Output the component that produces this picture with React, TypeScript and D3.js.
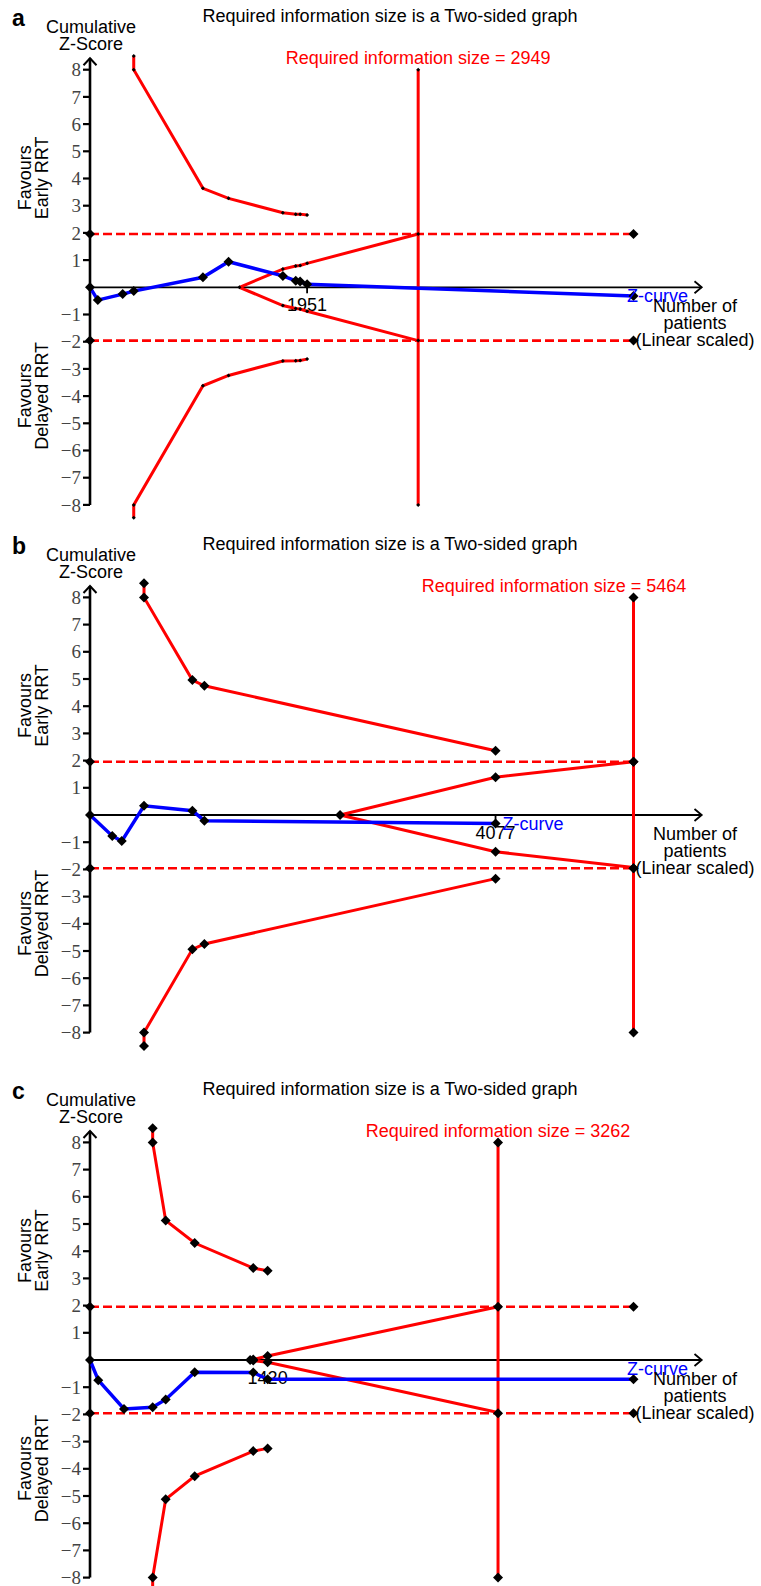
import { useEffect } from 'react';
import * as d3 from 'd3';

type Pt = [number, number];

const yTicks = [-8, -7, -6, -5, -4, -3, -2, -1, 1, 2, 3, 4, 5, 6, 7, 8];
const conventional = 1.96;

// panel a
const aRis = 2949;
const aEnd = 4884;
const aFinalN = 1951;
const aZCurve: Pt[] = [[0, 0], [70, -0.47], [294, -0.25], [393, -0.14], [1015, 0.37], [1245, 0.94], [1733, 0.42], [1849, 0.24], [1888, 0.21], [1951, 0.11], [4884, -0.32]];
const aUpper: Pt[] = [[393, 8.5], [393, 8], [1015, 3.64], [1245, 3.27], [1733, 2.74], [1849, 2.69], [1888, 2.69], [1951, 2.66]];
const aLower: Pt[] = [[393, -8.47], [393, -8], [1015, -3.62], [1245, -3.24], [1733, -2.71], [1849, -2.7], [1888, -2.69], [1951, -2.64]];
const aFutUp: Pt[] = [[1343, 0], [1733, 0.67], [1849, 0.78], [1888, 0.8], [1951, 0.88], [2949, 1.96]];
const aFutLo: Pt[] = [[1343, 0], [1733, -0.67], [1849, -0.78], [1888, -0.8], [1951, -0.88], [2949, -1.96]];

// panel b
const bRis = 5464;
const bEnd = 5464;
const bFinalN = 4077;
const bZCurve: Pt[] = [[0, 0], [224, -0.77], [319, -0.96], [543, 0.34], [1029, 0.16], [1150, -0.21], [4077, -0.31]];
const bUpper: Pt[] = [[543, 8.52], [543, 8], [1029, 4.96], [1150, 4.75], [4077, 2.36]];
const bLower: Pt[] = [[543, -8.49], [543, -8], [1029, -4.94], [1150, -4.74], [4077, -2.34]];
const bFutUp: Pt[] = [[2514, 0], [4077, 1.39], [5464, 1.96]];
const bFutLo: Pt[] = [[2514, 0], [4077, -1.35], [5464, -1.93]];

// panel c
const cRis = 3262;
const cEnd = 4345;
const cFinalN = 1420;
const cZCurve: Pt[] = [[0, 0], [66, -0.74], [272, -1.8], [501, -1.74], [605, -1.45], [837, -0.45], [1305, -0.46], [1420, -0.71], [4345, -0.71]];
const cUpper: Pt[] = [[501, 8.52], [501, 8], [605, 5.13], [837, 4.3], [1305, 3.38], [1420, 3.28]];
const cLower: Pt[] = [[501, -8.5], [501, -8], [605, -5.12], [837, -4.27], [1305, -3.35], [1420, -3.25]];
const cFutUp: Pt[] = [[1280, 0], [1305, 0.02], [1420, 0.15], [3262, 1.96]];
const cFutLo: Pt[] = [[1280, 0], [1305, -0.02], [1420, -0.08], [3262, -1.93]];

const SANS = 'Liberation Sans, Arial, sans-serif';
const SERIF = 'Liberation Serif, Times New Roman, serif';
const RED = '#ff0000';
const BLUE = '#0000ff';

const diamond = (r: number) => `M0,${-r}L${r},0L0,${r}L${-r},0Z`;

interface PanelProps {
  letter: string;
  zeroY: number;
  ris: number;
  end: number;
  finalN: number;
  zCurve: Pt[];
  upper: Pt[];
  lower: Pt[];
  futUp: Pt[];
  futLo: Pt[];
  smallDots: boolean;
}

function Panel(p: PanelProps) {
  const x = d3.scaleLinear().domain([0, p.end]).range([90, 633.5]);
  const y = d3.scaleLinear().domain([-8, 8]).range([p.zeroY + 217.6, p.zeroY - 217.6]);
  const line = d3.line<Pt>().x(d => x(d[0])).y(d => y(d[1]));
  const z0 = p.zeroY;
  const bR = p.smallDots ? 2 : 5;
  const bigR = 5;
  const lastZ = p.zCurve[p.zCurve.length - 1];
  const arrowX = 701.7;

  const bMarks = [...p.upper, ...p.lower, ...p.futUp.slice(0, -1), ...p.futLo.slice(1, -1)];

  return (
    <g>
      <text x={12} y={z0 - 261} fontFamily={SANS} fontSize={23} fontWeight="bold">{p.letter}</text>
      <text x={390} y={z0 - 265} fontFamily={SANS} fontSize={18} textAnchor="middle">
        Required information size is a Two-sided graph
      </text>
      <text x={91} y={z0 - 254} fontFamily={SANS} fontSize={18} textAnchor="middle">Cumulative</text>
      <text x={91} y={z0 - 237} fontFamily={SANS} fontSize={18} textAnchor="middle">Z-Score</text>
      <text x={Math.min(x(p.ris), 554)} y={z0 - 223} fontFamily={SANS} fontSize={18} textAnchor="middle" fill={RED}>
        {`Required information size = ${p.ris}`}
      </text>

      {/* side labels */}
      <g transform={`translate(0,${z0 - 109.5})`}>
        <text transform="translate(31,0) rotate(-90)" fontFamily={SANS} fontSize={18} textAnchor="middle">Favours</text>
        <text transform="translate(48,0) rotate(-90)" fontFamily={SANS} fontSize={18} textAnchor="middle">Early RRT</text>
      </g>
      <g transform={`translate(0,${z0 + 108.5})`}>
        <text transform="translate(31,0) rotate(-90)" fontFamily={SANS} fontSize={18} textAnchor="middle">Favours</text>
        <text transform="translate(48,0) rotate(-90)" fontFamily={SANS} fontSize={18} textAnchor="middle">Delayed RRT</text>
      </g>

      {/* y axis */}
      <line x1={90} x2={90} y1={y(-8)} y2={z0 - 229} stroke="#000" strokeWidth={2.6} />
      <path d={`M83.5,${z0 - 222}L90,${z0 - 229}L96.5,${z0 - 222}`} fill="none" stroke="#000" strokeWidth={2} />
      {yTicks.map(t => (
        <g key={t}>
          <line x1={83} x2={90} y1={y(t)} y2={y(t)} stroke="#000" strokeWidth={2.2} />
          <text x={81} y={y(t)} dy="0.35em" textAnchor="end" fontFamily={SERIF} fontSize={19} fill="#444">
            {t < 0 ? `\u2212${-t}` : t}
          </text>
        </g>
      ))}

      {/* x axis */}
      <line x1={90} x2={arrowX} y1={z0} y2={z0} stroke="#000" strokeWidth={1.8} />
      <path d={`M694.5,${z0 - 6}L${arrowX},${z0}L694.5,${z0 + 6}`} fill="none" stroke="#000" strokeWidth={1.8} />
      <line x1={x(p.finalN)} x2={x(p.finalN)} y1={z0} y2={z0 + 6} stroke="#000" strokeWidth={1.8} />
      <text x={x(p.finalN)} y={z0 + 24} textAnchor="middle" fontFamily={SANS} fontSize={18}>{p.finalN}</text>

      {/* conventional boundaries */}
      {[conventional, -conventional].map(c => (
        <line key={c} x1={x(0)} x2={x(p.end)} y1={y(c)} y2={y(c)} stroke={RED} strokeWidth={2.6} strokeDasharray="9,4" />
      ))}

      {/* monitoring boundaries */}
      <path d={line(p.upper) || ''} fill="none" stroke={RED} strokeWidth={3} />
      <path d={line(p.lower) || ''} fill="none" stroke={RED} strokeWidth={3} />
      <path d={line(p.futUp) || ''} fill="none" stroke={RED} strokeWidth={3} />
      <path d={line(p.futLo) || ''} fill="none" stroke={RED} strokeWidth={3} />
      <line x1={x(p.ris)} x2={x(p.ris)} y1={y(8)} y2={y(-8)} stroke={RED} strokeWidth={3} />

      {/* z-curve */}
      <path d={line(p.zCurve) || ''} fill="none" stroke={BLUE} strokeWidth={3.5} />

      {/* markers */}
      {bMarks.map((d, i) => (
        <path key={`b${i}`} d={diamond(bR)} transform={`translate(${x(d[0])},${y(d[1])})`} fill="#000" />
      ))}
      {[8, -8].map(v => (
        <path key={`r${v}`} d={diamond(bR)} transform={`translate(${x(p.ris)},${y(v)})`} fill="#000" />
      ))}
      {[conventional, -conventional].map(c => (
        <g key={`c${c}`}>
          <path d={diamond(bigR)} transform={`translate(${x(0)},${y(c)})`} fill="#000" />
          <path d={diamond(bigR)} transform={`translate(${x(p.end)},${y(c)})`} fill="#000" />
          <path d={diamond(p.smallDots ? 2 : bigR)} transform={`translate(${x(p.ris)},${y(c)})`} fill="#000" />
        </g>
      ))}
      {p.zCurve.map((d, i) => (
        <path key={`z${i}`} d={diamond(bigR)} transform={`translate(${x(d[0])},${y(d[1])})`} fill="#000" />
      ))}

      <text x={Math.min(x(lastZ[0]) + 7, 627)} y={z0 + 14.5} fontFamily={SANS} fontSize={18} fill={BLUE}>Z-curve</text>
      <text x={695} y={z0 + 25} textAnchor="middle" fontFamily={SANS} fontSize={18}>Number of</text>
      <text x={695} y={z0 + 42} textAnchor="middle" fontFamily={SANS} fontSize={18}>patients</text>
      <text x={695} y={z0 + 59} textAnchor="middle" fontFamily={SANS} fontSize={18}>(Linear scaled)</text>
    </g>
  );
}

export default function App() {
  useEffect(() => {
    document.body.style.margin = '0';
  }, []);

  return (
    <svg width={761} height={1586} style={{ display: 'block', background: '#fff' }}>
      <Panel letter="a" zeroY={287.3} ris={aRis} end={aEnd} finalN={aFinalN}
        zCurve={aZCurve} upper={aUpper} lower={aLower} futUp={aFutUp} futLo={aFutLo} smallDots />
      <Panel letter="b" zeroY={815} ris={bRis} end={bEnd} finalN={bFinalN}
        zCurve={bZCurve} upper={bUpper} lower={bLower} futUp={bFutUp} futLo={bFutLo} smallDots={false} />
      <Panel letter="c" zeroY={1360} ris={cRis} end={cEnd} finalN={cFinalN}
        zCurve={cZCurve} upper={cUpper} lower={cLower} futUp={cFutUp} futLo={cFutLo} smallDots={false} />
    </svg>
  );
}
